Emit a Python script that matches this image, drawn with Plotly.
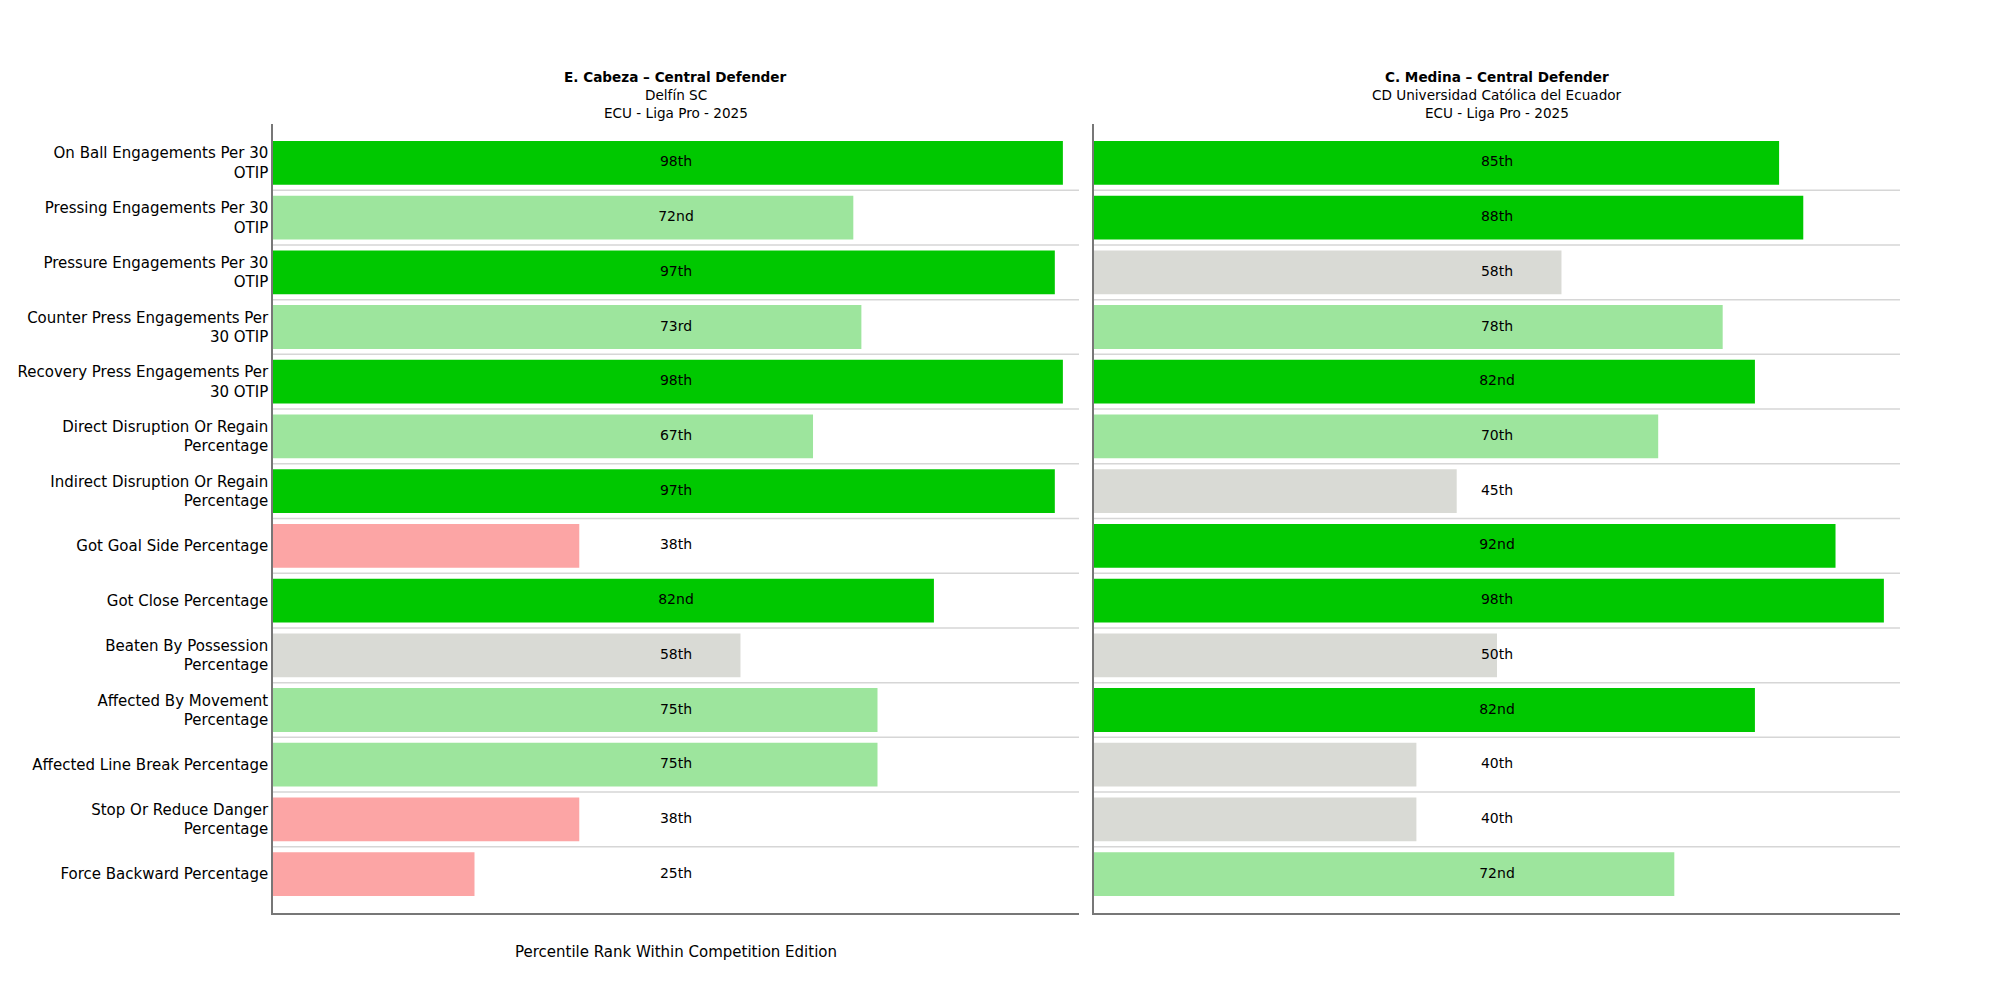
import plotly.graph_objects as go

metrics = [
    "On Ball Engagements Per 30<br>OTIP",
    "Pressing Engagements Per 30<br>OTIP",
    "Pressure Engagements Per 30<br>OTIP",
    "Counter Press Engagements Per<br>30 OTIP",
    "Recovery Press Engagements Per<br>30 OTIP",
    "Direct Disruption Or Regain<br>Percentage",
    "Indirect Disruption Or Regain<br>Percentage",
    "Got Goal Side Percentage",
    "Got Close Percentage",
    "Beaten By Possession<br>Percentage",
    "Affected By Movement<br>Percentage",
    "Affected Line Break Percentage",
    "Stop Or Reduce Danger<br>Percentage",
    "Force Backward Percentage",
]
cabeza_pct = [98, 72, 97, 73, 98, 67, 97, 38, 82, 58, 75, 75, 38, 25]
medina_pct = [85, 88, 58, 78, 82, 70, 45, 92, 98, 50, 82, 40, 40, 72]

players = [
    ("E. Cabeza – Central Defender", "Delfín SC", "ECU - Liga Pro - 2025"),
    ("C. Medina – Central Defender", "CD Universidad Católica del Ecuador", "ECU - Liga Pro - 2025"),
]
x_title = "Percentile Rank Within Competition Edition"

FONT = "DejaVu Sans"
FS_TICK = 15
FS_BAR = 14
FS_TITLE = 13.6


def ordinal(n):
    if 10 <= n % 100 <= 20:
        suf = "th"
    else:
        suf = {1: "st", 2: "nd", 3: "rd"}.get(n % 10, "th")
    return f"{n}{suf}"


def colour(v):
    if v >= 80:
        return "#00c800"
    if v >= 65:
        return "#9de59d"
    if v >= 40:
        return "#d9dad5"
    return "#fca5a5"


idx = list(range(len(metrics)))
# page body has an 8px margin, so positions are shifted up/left by 8px
domains = [[0.1325, 0.5355], [0.543, 0.946]]
ydom = [0.095, 0.884]

fig = go.Figure()
for k, vals in enumerate([cabeza_pct, medina_pct]):
    xa = "x" if k == 0 else "x2"
    ya = "y" if k == 0 else "y2"
    fig.add_trace(go.Bar(
        x=vals, y=idx, orientation="h", width=0.8,
        marker=dict(color=[colour(v) for v in vals], line=dict(width=0)),
        xaxis=xa, yaxis=ya, hoverinfo="skip",
    ))
    fig.add_trace(go.Scatter(
        x=[50] * len(vals), y=idx, mode="text",
        text=[ordinal(v) for v in vals],
        textfont=dict(family=FONT, size=FS_BAR, color="#000000"),
        xaxis=xa, yaxis=ya, hoverinfo="skip",
    ))
    for i in range(len(metrics) - 1):
        fig.add_shape(type="line", xref=f"{xa} domain", yref=ya,
                      x0=0, x1=1, y0=i + 0.5, y1=i + 0.5,
                      line=dict(color="#d6d6d6", width=1.5), layer="below")

axis_common = dict(showgrid=False, zeroline=False, showline=True,
                   linecolor="#777777", linewidth=1.5, ticks="")
fig.update_layout(
    width=2000, height=1000,
    margin=dict(l=0, r=0, t=0, b=0),
    paper_bgcolor="white", plot_bgcolor="white",
    showlegend=False, bargap=0.2,
    font=dict(family=FONT, size=FS_TICK, color="#000000"),
    xaxis=dict(domain=domains[0], range=[0, 100], showticklabels=False, anchor="y", **axis_common),
    yaxis=dict(domain=ydom, range=[13.71, -0.71], tickvals=idx, ticktext=metrics,
               tickfont=dict(family=FONT, size=FS_TICK, color="#000000"), anchor="x",
               automargin=False, ticklabelstandoff=0, **axis_common),
    xaxis2=dict(domain=domains[1], range=[0, 100], showticklabels=False, anchor="y2", **axis_common),
    yaxis2=dict(domain=ydom, range=[13.71, -0.71], tickvals=idx, showticklabels=False,
                anchor="x2", **axis_common),
)

ann = []
for k, (name, team, comp) in enumerate(players):
    cx = (domains[k][0] + domains[k][1]) / 2
    for txt, yy in [(f"<b>{name}</b>", 0.931), (team, 0.913), (comp, 0.895)]:
        ann.append(dict(text=txt, x=cx, y=yy, xref="paper", yref="paper",
                        xanchor="center", yanchor="middle", showarrow=False,
                        font=dict(family=FONT, size=FS_TITLE, color="#000000")))
ann.append(dict(text=x_title, x=(domains[0][0] + domains[0][1]) / 2, y=0.056,
                xref="paper", yref="paper", xanchor="center", yanchor="middle",
                showarrow=False, font=dict(family=FONT, size=FS_TICK, color="#000000")))
fig.update_layout(annotations=ann)

fig.write_html("out.html")
